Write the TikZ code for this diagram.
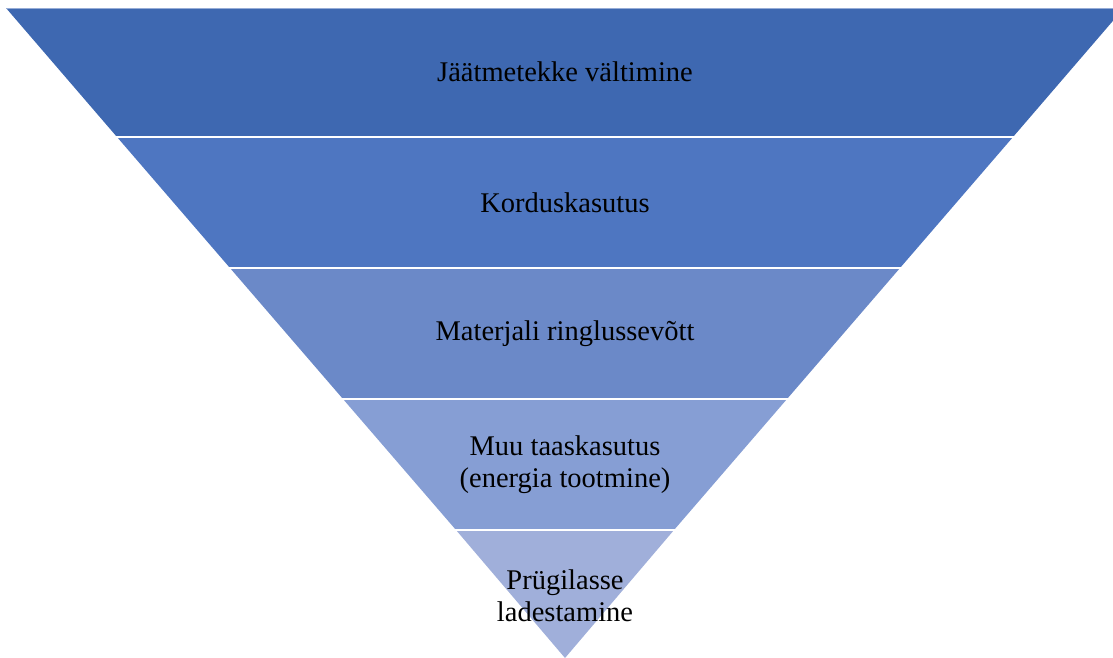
\documentclass[tikz,border=0pt]{standalone}
\usepackage{fontspec}
\setmainfont{Liberation Serif}
\definecolor{lA}{RGB}{62,104,177}
\definecolor{lB}{RGB}{78,118,193}
\definecolor{lC}{RGB}{107,137,200}
\definecolor{lD}{RGB}{134,158,212}
\definecolor{lE}{RGB}{160,175,218}
\definecolor{topline}{RGB}{150,172,214}
\tikzset{
  sep/.style={draw=white, line width=2.5pt},
  lbl/.style={align=center, font=\fontsize{28.5}{32}\selectfont, text=black, inner sep=0pt}
}
\begin{document}
\begin{tikzpicture}[x=1pt,y=-1pt]
\useasboundingbox (0,0) rectangle (1113,657);
\clip (0,0) rectangle (1113,657);
% half-width at y: (657-y)*0.8615 about x=565
\fill[lA] (6,8) -- (1124,8) -- (1013,137) -- (117,137) -- cycle;
\fill[lB] (117,137) -- (1013,137) -- (900,268) -- (230,268) -- cycle;
\fill[lC] (230,268) -- (900,268) -- (787,399) -- (343,399) -- cycle;
\fill[lD] (343,399) -- (787,399) -- (674,530) -- (456,530) -- cycle;
\fill[lE] (456,530) -- (674,530) -- (565,658) -- cycle;
\draw[topline, line width=1pt] (6,8) -- (1124,8);
\draw[sep] (100,137) -- (1030,137);
\draw[sep] (210,268) -- (920,268);
\draw[sep] (320,399) -- (810,399);
\draw[sep] (430,530) -- (700,530);
\node[lbl] (t1) at (565,72) {Jäätmetekke vältimine};
\node[lbl] (t2) at (565,203) {Korduskasutus};
\node[lbl] (t3) at (565,334) {Materjali ringlussevõtt};
\node[lbl] (t4) at (565,465) {Muu taaskasutus\\(energia tootmine)};
\node[lbl] (t5) at (565,596) {Prügilasse\\ladestamine};
\end{tikzpicture}
\end{document}
